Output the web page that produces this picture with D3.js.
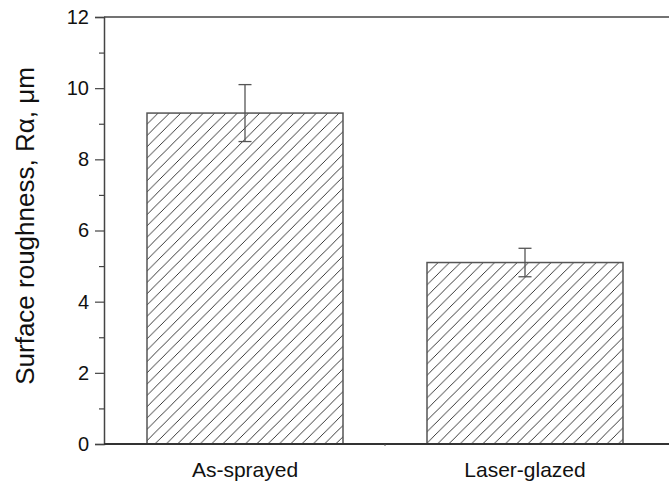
<!DOCTYPE html>
<html>
<head>
<meta charset="utf-8">
<script src="https://cdn.jsdelivr.net/npm/d3@7"></script>
<style>
  body { margin: 0; background: #fff; }
  svg { display: block; font-family: "Liberation Sans", Arial, sans-serif; }
</style>
</head>
<body>
<div id="chart"></div>
<script>
// data
const categories = ['As-sprayed', 'Laser-glazed'];
const roughness = [9.3, 5.1];
const errors = [0.8, 0.4];
const yTicks = [0, 2, 4, 6, 8, 10, 12];
const yMinorTicks = [1, 3, 5, 7, 9, 11];

const width = 669, height = 485;
const plotLeft = 104, plotTop = 17, plotBottom = 444;

const svg = d3.select('#chart').append('svg')
  .attr('width', width)
  .attr('height', height);

// hatch pattern for bars
const defs = svg.append('defs');
const pat = defs.append('pattern')
  .attr('id', 'hatch')
  .attr('patternUnits', 'userSpaceOnUse')
  .attr('width', 11.3)
  .attr('height', 11.3);
pat.append('path')
  .attr('d', 'M-2,2 L2,-2 M0,11.3 L11.3,0 M9.3,13.3 L13.3,9.3')
  .attr('stroke', '#222')
  .attr('stroke-width', 0.9);

const x = d3.scaleBand()
  .domain(categories)
  .range([105, 665])
  .paddingInner(0.3)
  .paddingOuter(0.15);

const y = d3.scaleLinear()
  .domain([0, 12])
  .range([plotBottom, plotTop]);

// bars
svg.selectAll('.bar')
  .data(categories)
  .enter().append('rect')
  .attr('class', 'bar')
  .attr('x', d => x(d))
  .attr('y', (d, i) => y(roughness[i]))
  .attr('width', x.bandwidth())
  .attr('height', (d, i) => plotBottom - y(roughness[i]))
  .attr('fill', 'url(#hatch)')
  .attr('stroke', '#555')
  .attr('stroke-width', 1.5);

// error bars
const eb = svg.selectAll('.err')
  .data(categories)
  .enter().append('g')
  .attr('class', 'err')
  .attr('stroke', '#555')
  .attr('stroke-width', 1.3);
eb.append('line')
  .attr('x1', d => x(d) + x.bandwidth() / 2)
  .attr('x2', d => x(d) + x.bandwidth() / 2)
  .attr('y1', (d, i) => y(roughness[i] + errors[i]))
  .attr('y2', (d, i) => y(roughness[i] - errors[i]));
[1, -1].forEach(s => {
  eb.append('line')
    .attr('x1', d => x(d) + x.bandwidth() / 2 - 6.5)
    .attr('x2', d => x(d) + x.bandwidth() / 2 + 6.5)
    .attr('y1', (d, i) => y(roughness[i] + s * errors[i]))
    .attr('y2', (d, i) => y(roughness[i] + s * errors[i]));
});

// y axis
const yAxis = svg.append('g')
  .attr('transform', `translate(${plotLeft},0)`)
  .call(d3.axisLeft(y).tickValues(yTicks).tickSize(9).tickPadding(6).tickFormat(d3.format('d')));
yAxis.select('.domain').attr('stroke', '#444').attr('stroke-width', 1.5);
yAxis.selectAll('.tick line').attr('stroke', '#444').attr('stroke-width', 1.2);
yAxis.selectAll('.tick text')
  .attr('font-size', 20)
  .attr('fill', '#111')
  .attr('font-family', '"Liberation Sans", Arial, sans-serif');

const yMinor = svg.append('g')
  .attr('transform', `translate(${plotLeft},0)`)
  .call(d3.axisLeft(y).tickValues(yMinorTicks).tickSize(5).tickFormat(''));
yMinor.select('.domain').remove();
yMinor.selectAll('.tick line').attr('stroke', '#444').attr('stroke-width', 1.2);

// top frame line
svg.append('line')
  .attr('x1', plotLeft).attr('x2', width)
  .attr('y1', y(12)).attr('y2', y(12))
  .attr('stroke', '#444').attr('stroke-width', 1.3);

// x axis
const xAxis = svg.append('g')
  .attr('transform', `translate(0,${plotBottom})`)
  .call(d3.axisBottom(x).tickSize(0).tickPadding(18));
xAxis.select('.domain').remove();
xAxis.selectAll('.tick text')
  .attr('font-size', 21)
  .attr('fill', '#111')
  .attr('font-family', '"Liberation Sans", Arial, sans-serif');
svg.append('line')
  .attr('x1', plotLeft).attr('x2', width)
  .attr('y1', plotBottom).attr('y2', plotBottom)
  .attr('stroke', '#333').attr('stroke-width', 2);
// small tick between categories
svg.append('line')
  .attr('x1', x.range()[0] + x.step()).attr('x2', x.range()[0] + x.step())
  .attr('y1', plotBottom).attr('y2', plotBottom + 2)
  .attr('stroke', '#555').attr('stroke-width', 1);

// y label
svg.append('text')
  .attr('transform', `translate(34,226) rotate(-90)`)
  .attr('text-anchor', 'middle')
  .attr('font-size', 26)
  .attr('fill', '#111')
  .text('Surface roughness, R\u03B1, \u03BCm');
</script>
</body>
</html>
